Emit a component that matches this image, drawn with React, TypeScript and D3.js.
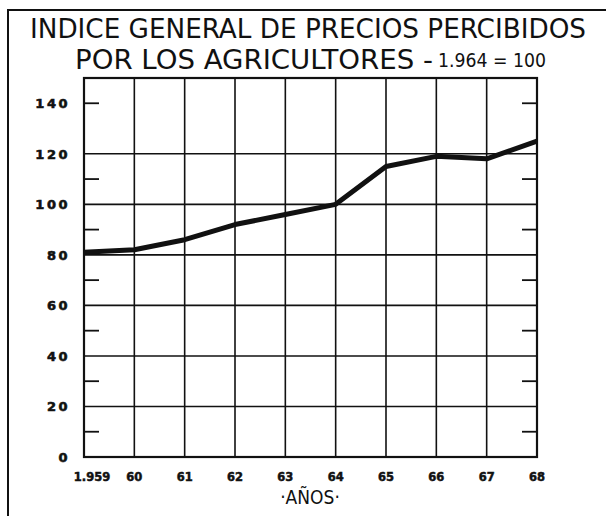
import React from 'react';
import * as d3 from 'd3';

const years = ['1.959', '60', '61', '62', '63', '64', '65', '66', '67', '68'];
const indexValues = [81, 82, 86, 92, 96, 100, 115, 119, 118, 125];
const yLabels = [0, 20, 40, 60, 80, 100, 120, 140];
const gridValues = [20, 40, 60, 80, 100, 120];
const minorTicks = [10, 30, 50, 70, 90, 110, 140];

export default function App() {
  const width = 606;
  const height = 516;
  const plot = { left: 84, right: 537, top: 78, bottom: 457 };

  const x = d3.scalePoint<string>()
    .domain(years)
    .range([plot.left, plot.right]);

  const y = d3.scaleLinear()
    .domain([0, 150])
    .range([plot.bottom, plot.top]);

  const line = d3.line<number>()
    .x((_, i) => x(years[i]) as number)
    .y(d => y(d));

  const titleFont = '"Liberation Sans Narrow", "DejaVu Sans Condensed", "Liberation Sans", sans-serif';
  const labelFont = '"DejaVu Sans", sans-serif';

  return (
    <svg
      width={width}
      height={height}
      style={{ position: 'absolute', left: 0, top: 0, background: '#fff' }}
    >
      {/* outer frame */}
      <path d={`M8,${height} V10 H${width}`} fill="none" stroke="#111" strokeWidth={2} />

      {/* title */}
      <text x={30} y={38} fontFamily={titleFont} fontSize={27} fill="#111"
        textLength={556} lengthAdjust="spacingAndGlyphs">
        INDICE GENERAL DE PRECIOS PERCIBIDOS
      </text>
      <text x={75} y={69} fontFamily={titleFont} fontSize={27} fill="#111"
        textLength={358} lengthAdjust="spacingAndGlyphs">
        POR LOS AGRICULTORES -
      </text>
      <text x={438} y={67} fontFamily={titleFont} fontSize={20} fill="#111"
        textLength={108} lengthAdjust="spacingAndGlyphs">
        1.964 = 100
      </text>

      {/* horizontal grid */}
      {gridValues.map(v => (
        <line key={'h' + v} x1={plot.left} x2={plot.right} y1={y(v)} y2={y(v)}
          stroke="#111" strokeWidth={1.6} />
      ))}

      {/* vertical grid */}
      {years.map(yr => (
        <line key={'v' + yr} x1={x(yr)} x2={x(yr)} y1={plot.top} y2={plot.bottom}
          stroke="#111" strokeWidth={1.6} />
      ))}

      {/* minor ticks on both sides */}
      {minorTicks.map(v => (
        <g key={'t' + v}>
          <line x1={plot.left} x2={plot.left + 15} y1={y(v)} y2={y(v)} stroke="#111" strokeWidth={1.8} />
          <line x1={plot.right - 15} x2={plot.right} y1={y(v)} y2={y(v)} stroke="#111" strokeWidth={1.8} />
        </g>
      ))}

      {/* plot frame */}
      <rect x={plot.left} y={plot.top} width={plot.right - plot.left} height={plot.bottom - plot.top}
        fill="none" stroke="#111" strokeWidth={2.2} />

      {/* data line */}
      <path d={line(indexValues) ?? ''} fill="none" stroke="#111" strokeWidth={5}
        strokeLinejoin="round" />

      {/* y labels */}
      {yLabels.map(v => (
        <text key={'yl' + v} x={70} y={y(v) + 5} textAnchor="end" fontFamily={labelFont}
          fontWeight="bold" fontSize={13} letterSpacing={2.5} fill="#111"
          stroke="#111" strokeWidth={0.6}>
          {v}
        </text>
      ))}

      {/* x labels */}
      {years.map(yr => (
        <text key={'xl' + yr} x={(x(yr) as number) + (yr === '1.959' ? 8 : 0)} y={481}
          textAnchor="middle" fontFamily={labelFont} fontWeight="bold" fontSize={11.5} fill="#111"
          stroke="#111" strokeWidth={0.5}>
          {yr}
        </text>
      ))}

      <text x={310} y={504} textAnchor="middle" fontFamily={titleFont} fontSize={19} fill="#111">
        ·AÑOS·
      </text>
    </svg>
  );
}
